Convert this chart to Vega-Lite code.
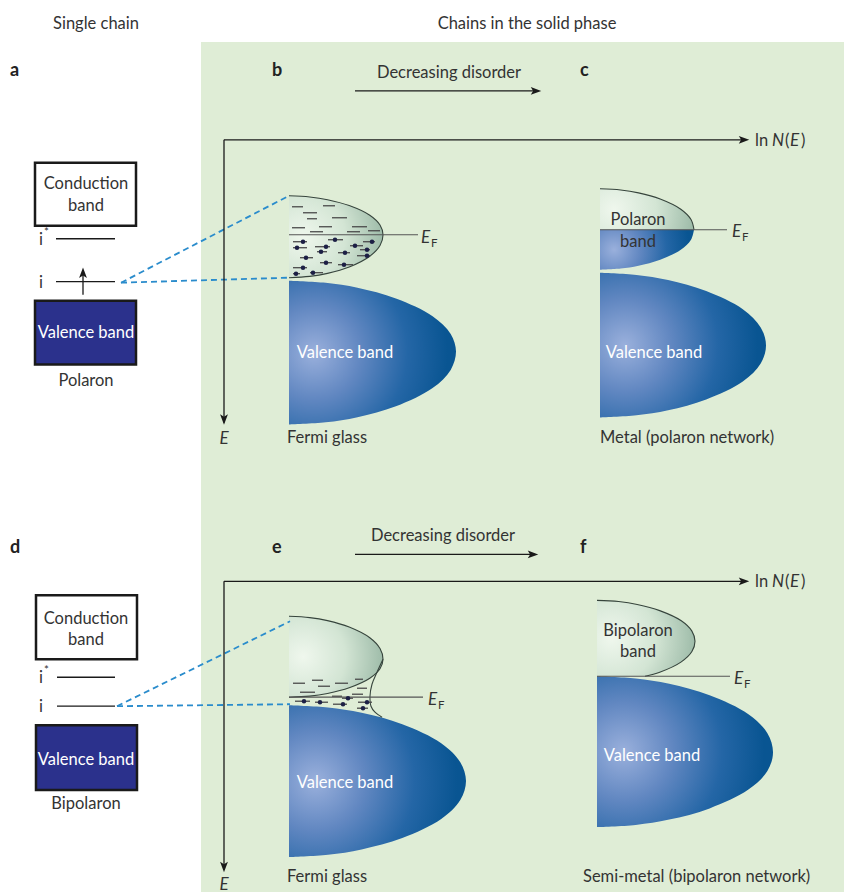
{
  "$schema": "https://vega.github.io/schema/vega-lite/v6.json",
  "width": 844,
  "height": 893,
  "autosize": {"type": "fit", "contains": "padding"},
  "padding": 0,
  "background": "white",
  "config": {"view": {"stroke": null}, "text": {"font": "Lato"}},
  "datasets": {
    "bg": [{"x": 201, "x2": 844, "y": 42, "y2": 893}],
    "boxes": [
      {"k": "cond", "x": 35, "x2": 136, "y": 163, "y2": 226},
      {"k": "val", "x": 35, "x2": 136, "y": 301, "y2": 365},
      {"k": "cond", "x": 36, "x2": 137, "y": 596, "y2": 660},
      {"k": "val", "x": 36, "x2": 137, "y": 726, "y2": 791}
    ],
    "shapes": [
      {"s": "b_up", "x0": 289, "y": 196, "x": 289}, {"s": "b_up", "x0": 289, "y": 197.2, "x": 309.7}, {"s": "b_up", "x0": 289, "y": 199.9, "x": 327.5}, {"s": "b_up", "x0": 289, "y": 205.8, "x": 349.2}, {"s": "b_up", "x0": 289, "y": 215.5, "x": 369.8}, {"s": "b_up", "x0": 289, "y": 225.3, "x": 380}, {"s": "b_up", "x0": 289, "y": 235, "x": 383}, {"s": "b_up", "x0": 289, "y": 245.8, "x": 380}, {"s": "b_up", "x0": 289, "y": 256.5, "x": 369.8}, {"s": "b_up", "x0": 289, "y": 267.3, "x": 349.2}, {"s": "b_up", "x0": 289, "y": 273.7, "x": 327.5}, {"s": "b_up", "x0": 289, "y": 276.7, "x": 309.7}, {"s": "b_up", "x0": 289, "y": 278, "x": 289},
      {"s": "b_val", "x0": 289, "y": 281, "x": 289}, {"s": "b_val", "x0": 289, "y": 283.1, "x": 325.7}, {"s": "b_val", "x0": 289, "y": 288.1, "x": 357.5}, {"s": "b_val", "x0": 289, "y": 298.8, "x": 395.9}, {"s": "b_val", "x0": 289, "y": 316.5, "x": 432.6}, {"s": "b_val", "x0": 289, "y": 334.3, "x": 450.7}, {"s": "b_val", "x0": 289, "y": 352, "x": 456}, {"s": "b_val", "x0": 289, "y": 370.3, "x": 450.7}, {"s": "b_val", "x0": 289, "y": 388.5, "x": 432.6}, {"s": "b_val", "x0": 289, "y": 406.8, "x": 395.9}, {"s": "b_val", "x0": 289, "y": 417.7, "x": 357.5}, {"s": "b_val", "x0": 289, "y": 422.8, "x": 325.7}, {"s": "b_val", "x0": 289, "y": 425, "x": 289},
      {"s": "c_pt", "x0": 600, "y": 189, "x": 600}, {"s": "c_pt", "x0": 600, "y": 190.2, "x": 620.7}, {"s": "c_pt", "x0": 600, "y": 193.1, "x": 638.5}, {"s": "c_pt", "x0": 600, "y": 199.3, "x": 660.2}, {"s": "c_pt", "x0": 600, "y": 209.5, "x": 680.8}, {"s": "c_pt", "x0": 600, "y": 219.8, "x": 691}, {"s": "c_pt", "x0": 600, "y": 230, "x": 694},
      {"s": "c_pb", "x0": 600, "y": 230, "x": 694}, {"s": "c_pb", "x0": 600, "y": 240, "x": 691}, {"s": "c_pb", "x0": 600, "y": 250, "x": 680.8}, {"s": "c_pb", "x0": 600, "y": 260, "x": 660.2}, {"s": "c_pb", "x0": 600, "y": 266, "x": 638.5}, {"s": "c_pb", "x0": 600, "y": 268.8, "x": 620.7}, {"s": "c_pb", "x0": 600, "y": 270, "x": 600},
      {"s": "c_val", "x0": 600, "y": 273, "x": 600}, {"s": "c_val", "x0": 600, "y": 275.2, "x": 636.5}, {"s": "c_val", "x0": 600, "y": 280.3, "x": 668.1}, {"s": "c_val", "x0": 600, "y": 291.3, "x": 706.2}, {"s": "c_val", "x0": 600, "y": 309.5, "x": 742.8}, {"s": "c_val", "x0": 600, "y": 327.8, "x": 760.7}, {"s": "c_val", "x0": 600, "y": 346, "x": 766}, {"s": "c_val", "x0": 600, "y": 364, "x": 760.7}, {"s": "c_val", "x0": 600, "y": 382, "x": 742.8}, {"s": "c_val", "x0": 600, "y": 400, "x": 706.2}, {"s": "c_val", "x0": 600, "y": 410.8, "x": 668.1}, {"s": "c_val", "x0": 600, "y": 415.8, "x": 636.5}, {"s": "c_val", "x0": 600, "y": 418, "x": 600},
      {"s": "e_up", "x0": 289, "y": 617, "x": 289}, {"s": "e_up", "x0": 289, "y": 618.3, "x": 309.7}, {"s": "e_up", "x0": 289, "y": 621.3, "x": 327.5}, {"s": "e_up", "x0": 289, "y": 627.8, "x": 349.2}, {"s": "e_up", "x0": 289, "y": 638.5, "x": 369.8}, {"s": "e_up", "x0": 289, "y": 649.3, "x": 380}, {"s": "e_up", "x0": 289, "y": 660, "x": 383}, {"s": "e_up", "x0": 289, "y": 669.5, "x": 380}, {"s": "e_up", "x0": 289, "y": 679, "x": 369.8}, {"s": "e_up", "x0": 289, "y": 688.5, "x": 349.2}, {"s": "e_up", "x0": 289, "y": 694.2, "x": 327.5}, {"s": "e_up", "x0": 289, "y": 696.9, "x": 309.7}, {"s": "e_up", "x0": 289, "y": 698, "x": 289},
      {"s": "e_val", "x0": 289, "y": 706, "x": 289}, {"s": "e_val", "x0": 289, "y": 708.3, "x": 328}, {"s": "e_val", "x0": 289, "y": 713.6, "x": 361.6}, {"s": "e_val", "x0": 289, "y": 725, "x": 402.3}, {"s": "e_val", "x0": 289, "y": 744, "x": 441.2}, {"s": "e_val", "x0": 289, "y": 763, "x": 460.3}, {"s": "e_val", "x0": 289, "y": 782, "x": 466}, {"s": "e_val", "x0": 289, "y": 801, "x": 460.3}, {"s": "e_val", "x0": 289, "y": 820, "x": 441.2}, {"s": "e_val", "x0": 289, "y": 839, "x": 402.3}, {"s": "e_val", "x0": 289, "y": 850.4, "x": 361.6}, {"s": "e_val", "x0": 289, "y": 855.7, "x": 328}, {"s": "e_val", "x0": 289, "y": 858, "x": 289},
      {"s": "f_bip", "x0": 597, "y": 601, "x": 597}, {"s": "f_bip", "x0": 597, "y": 602.2, "x": 618.6}, {"s": "f_bip", "x0": 597, "y": 605.1, "x": 637.2}, {"s": "f_bip", "x0": 597, "y": 611.3, "x": 659.7}, {"s": "f_bip", "x0": 597, "y": 621.5, "x": 681.3}, {"s": "f_bip", "x0": 597, "y": 631.8, "x": 691.9}, {"s": "f_bip", "x0": 597, "y": 642, "x": 695}, {"s": "f_bip", "x0": 597, "y": 652.3, "x": 691.9}, {"s": "f_bip", "x0": 597, "y": 662.6, "x": 681.3}, {"s": "f_bip", "x0": 597, "y": 673, "x": 659.7}, {"s": "f_bip", "x0": 597, "y": 677, "x": 645},
      {"s": "f_val", "x0": 597, "y": 677, "x": 597}, {"s": "f_val", "x0": 597, "y": 679.3, "x": 635.7}, {"s": "f_val", "x0": 597, "y": 684.6, "x": 669.2}, {"s": "f_val", "x0": 597, "y": 696, "x": 709.6}, {"s": "f_val", "x0": 597, "y": 715, "x": 748.4}, {"s": "f_val", "x0": 597, "y": 734, "x": 767.4}, {"s": "f_val", "x0": 597, "y": 753, "x": 773}, {"s": "f_val", "x0": 597, "y": 771.8, "x": 767.4}, {"s": "f_val", "x0": 597, "y": 790.5, "x": 748.4}, {"s": "f_val", "x0": 597, "y": 809.3, "x": 709.6}, {"s": "f_val", "x0": 597, "y": 820.5, "x": 669.2}, {"s": "f_val", "x0": 597, "y": 825.8, "x": 635.7}, {"s": "f_val", "x0": 597, "y": 828, "x": 597}
    ],
    "tail": [
      {"x": 383, "y": 660}, {"x": 377, "y": 673}, {"x": 372, "y": 685}, {"x": 370, "y": 697}, {"x": 371, "y": 707}, {"x": 375, "y": 713}, {"x": 382, "y": 718}
    ],
    "segs": [
      {"k": "ax", "x": 224, "y": 140, "x2": 224, "y2": 423},
      {"k": "ax", "x": 224, "y": 140, "x2": 746, "y2": 140},
      {"k": "ax", "x": 224, "y": 582, "x2": 224, "y2": 871},
      {"k": "ax", "x": 224, "y": 582, "x2": 746, "y2": 582},
      {"k": "ax", "x": 355, "y": 91, "x2": 538, "y2": 91},
      {"k": "ax", "x": 355, "y": 555, "x2": 535, "y2": 555},
      {"k": "ax", "x": 83, "y": 295, "x2": 83, "y2": 271},
      {"k": "ax", "x": 56, "y": 239, "x2": 115, "y2": 239},
      {"k": "ax", "x": 56, "y": 282, "x2": 115, "y2": 282},
      {"k": "ax", "x": 57, "y": 678, "x2": 115, "y2": 678},
      {"k": "ax", "x": 57, "y": 707, "x2": 115, "y2": 707},
      {"k": "ef", "x": 289, "y": 235, "x2": 418, "y2": 235},
      {"k": "ef", "x": 600, "y": 230, "x2": 727, "y2": 230},
      {"k": "ef", "x": 289, "y": 698, "x2": 423, "y2": 698},
      {"k": "ef", "x": 597, "y": 677, "x2": 730, "y2": 677},
      {"k": "blue", "x": 121, "y": 283, "x2": 289, "y2": 196},
      {"k": "blue", "x": 121, "y": 283, "x2": 289, "y2": 278},
      {"k": "blue", "x": 117, "y": 707, "x2": 290, "y2": 622},
      {"k": "blue", "x": 117, "y": 707, "x2": 290, "y2": 705},
      {"k": "lev", "x": 292, "x2": 303, "y": 207, "y2": 207},
      {"k": "lev", "x": 323, "x2": 335, "y": 206, "y2": 206},
      {"k": "lev", "x": 303, "x2": 317, "y": 213, "y2": 213},
      {"k": "lev", "x": 307, "x2": 317, "y": 219, "y2": 219},
      {"k": "lev", "x": 332, "x2": 347, "y": 218, "y2": 218},
      {"k": "lev", "x": 292, "x2": 305, "y": 228, "y2": 228},
      {"k": "lev", "x": 319, "x2": 332, "y": 227, "y2": 227},
      {"k": "lev", "x": 352, "x2": 367, "y": 227, "y2": 227},
      {"k": "lev", "x": 310, "x2": 323, "y": 232, "y2": 232},
      {"k": "lev", "x": 347, "x2": 360, "y": 232, "y2": 232},
      {"k": "lev", "x": 368, "x2": 380, "y": 231, "y2": 231},
      {"k": "lev", "x": 293, "x2": 307, "y": 242, "y2": 242},
      {"k": "lev", "x": 328, "x2": 343, "y": 240, "y2": 240},
      {"k": "lev", "x": 363, "x2": 375, "y": 242, "y2": 242},
      {"k": "lev", "x": 293, "x2": 307, "y": 248, "y2": 248},
      {"k": "lev", "x": 315, "x2": 330, "y": 247, "y2": 247},
      {"k": "lev", "x": 317, "x2": 327, "y": 252, "y2": 252},
      {"k": "lev", "x": 350, "x2": 363, "y": 246, "y2": 246},
      {"k": "lev", "x": 360, "x2": 370, "y": 250, "y2": 250},
      {"k": "lev", "x": 338, "x2": 350, "y": 253, "y2": 253},
      {"k": "lev", "x": 300, "x2": 313, "y": 258, "y2": 258},
      {"k": "lev", "x": 357, "x2": 370, "y": 256, "y2": 256},
      {"k": "lev", "x": 320, "x2": 332, "y": 263, "y2": 263},
      {"k": "lev", "x": 338, "x2": 353, "y": 265, "y2": 265},
      {"k": "lev", "x": 293, "x2": 307, "y": 268, "y2": 268},
      {"k": "lev", "x": 310, "x2": 323, "y": 273, "y2": 273},
      {"k": "lev", "x": 293, "x2": 300, "y": 274, "y2": 274},
      {"k": "lev", "x": 293, "x2": 305, "y": 684, "y2": 684},
      {"k": "lev", "x": 312, "x2": 323, "y": 681, "y2": 681},
      {"k": "lev", "x": 318, "x2": 330, "y": 687, "y2": 687},
      {"k": "lev", "x": 335, "x2": 348, "y": 684, "y2": 684},
      {"k": "lev", "x": 355, "x2": 363, "y": 680, "y2": 680},
      {"k": "lev", "x": 300, "x2": 315, "y": 693, "y2": 693},
      {"k": "lev", "x": 352, "x2": 363, "y": 695, "y2": 695},
      {"k": "lev", "x": 357, "x2": 367, "y": 689, "y2": 689},
      {"k": "lev", "x": 332, "x2": 342, "y": 697, "y2": 697},
      {"k": "lev", "x": 295, "x2": 310, "y": 702, "y2": 702},
      {"k": "lev", "x": 315, "x2": 328, "y": 703, "y2": 703},
      {"k": "lev", "x": 333, "x2": 347, "y": 705, "y2": 705},
      {"k": "lev", "x": 342, "x2": 353, "y": 699, "y2": 699},
      {"k": "lev", "x": 358, "x2": 372, "y": 703, "y2": 703},
      {"k": "lev", "x": 357, "x2": 368, "y": 709, "y2": 709}
    ],
    "dots": [
      {"x": 303, "y": 242}, {"x": 335, "y": 240}, {"x": 372, "y": 242}, {"x": 297, "y": 248}, {"x": 326, "y": 247}, {"x": 321, "y": 252}, {"x": 355, "y": 246}, {"x": 367, "y": 250}, {"x": 345, "y": 253}, {"x": 306, "y": 258}, {"x": 367, "y": 256}, {"x": 326, "y": 263}, {"x": 344, "y": 265}, {"x": 303, "y": 268}, {"x": 313, "y": 273}, {"x": 296, "y": 274},
      {"x": 304, "y": 702}, {"x": 320, "y": 703}, {"x": 343, "y": 705}, {"x": 348, "y": 699}, {"x": 367, "y": 703}, {"x": 363, "y": 709}
    ],
    "arrows": [
      {"d": "down", "x": 224, "y": 420}, {"d": "down", "x": 224, "y": 868},
      {"d": "right", "x": 744, "y": 140}, {"d": "right", "x": 744, "y": 582},
      {"d": "right", "x": 536, "y": 91}, {"d": "right", "x": 533, "y": 555},
      {"d": "up", "x": 83, "y": 273}
    ],
    "texts": [
      {"g": "c", "x": 96, "y": 24, "t": "Single chain"},
      {"g": "c", "x": 527, "y": 24, "t": "Chains in the solid phase"},
      {"g": "c", "x": 449, "y": 73, "t": "Decreasing disorder"},
      {"g": "c", "x": 443, "y": 537, "t": "Decreasing disorder"},
      {"g": "c", "x": 86, "y": 184, "t": "Conduction"},
      {"g": "c", "x": 86, "y": 206, "t": "band"},
      {"g": "c", "x": 86, "y": 620, "t": "Conduction"},
      {"g": "c", "x": 86, "y": 641, "t": "band"},
      {"g": "c", "x": 86, "y": 381, "t": "Polaron"},
      {"g": "c", "x": 86, "y": 805, "t": "Bipolaron"},
      {"g": "c", "x": 638, "y": 220, "t": "Polaron"},
      {"g": "c", "x": 638, "y": 242, "t": "band"},
      {"g": "c", "x": 638, "y": 632, "t": "Bipolaron"},
      {"g": "c", "x": 638, "y": 653, "t": "band"},
      {"g": "c", "x": 41, "y": 240, "t": "i"},
      {"g": "c", "x": 41, "y": 283, "t": "i"},
      {"g": "c", "x": 41, "y": 679, "t": "i"},
      {"g": "c", "x": 41, "y": 708, "t": "i"},
      {"g": "l", "x": 287, "y": 438, "t": "Fermi glass"},
      {"g": "l", "x": 287, "y": 878, "t": "Fermi glass"},
      {"g": "l", "x": 600, "y": 438, "t": "Metal (polaron network)"},
      {"g": "l", "x": 583, "y": 878, "t": "Semi-metal (bipolaron network)"},
      {"g": "l", "x": 755, "y": 141, "t": "ln"},
      {"g": "l", "x": 785, "y": 141, "t": "("},
      {"g": "l", "x": 801, "y": 141, "t": ")"},
      {"g": "l", "x": 755, "y": 583, "t": "ln"},
      {"g": "l", "x": 785, "y": 583, "t": "("},
      {"g": "l", "x": 801, "y": 583, "t": ")"},
      {"g": "w", "x": 86, "y": 333, "t": "Valence band"},
      {"g": "w", "x": 86, "y": 761, "t": "Valence band"},
      {"g": "w", "x": 345, "y": 353, "t": "Valence band"},
      {"g": "w", "x": 654, "y": 353, "t": "Valence band"},
      {"g": "w", "x": 345, "y": 784, "t": "Valence band"},
      {"g": "w", "x": 652, "y": 757, "t": "Valence band"},
      {"g": "b", "x": 10, "y": 71, "t": "a"},
      {"g": "b", "x": 272, "y": 71, "t": "b"},
      {"g": "b", "x": 580, "y": 71, "t": "c"},
      {"g": "b", "x": 10, "y": 549, "t": "d"},
      {"g": "b", "x": 272, "y": 549, "t": "e"},
      {"g": "b", "x": 580, "y": 549, "t": "f"},
      {"g": "ic", "x": 224, "y": 439, "t": "E"},
      {"g": "ic", "x": 224, "y": 886, "t": "E"},
      {"g": "il", "x": 772, "y": 141, "t": "N"},
      {"g": "il", "x": 790, "y": 141, "t": "E"},
      {"g": "il", "x": 772, "y": 583, "t": "N"},
      {"g": "il", "x": 790, "y": 583, "t": "E"},
      {"g": "il", "x": 421, "y": 238, "t": "E"},
      {"g": "il", "x": 732, "y": 232, "t": "E"},
      {"g": "il", "x": 428, "y": 701, "t": "E"},
      {"g": "il", "x": 734, "y": 680, "t": "E"},
      {"g": "s", "x": 431, "y": 244, "t": "F"},
      {"g": "s", "x": 742, "y": 238, "t": "F"},
      {"g": "s", "x": 438, "y": 707, "t": "F"},
      {"g": "s", "x": 744, "y": 686, "t": "F"},
      {"g": "s", "x": 44, "y": 233, "t": "*"},
      {"g": "s", "x": 44, "y": 672, "t": "*"}
    ]
  },
  "encoding": {
    "x": {"field": "x", "type": "quantitative", "scale": {"domain": [0, 844], "nice": false, "zero": false}, "axis": null},
    "y": {"field": "y", "type": "quantitative", "scale": {"domain": [0, 893], "nice": false, "zero": false, "reverse": true}, "axis": null}
  },
  "layer": [
    {
      "data": {"name": "bg"},
      "mark": {"type": "rect", "fill": "#dfedd6"},
      "encoding": {"x2": {"field": "x2"}, "y2": {"field": "y2"}}
    },
    {
      "data": {"name": "boxes"},
      "transform": [{"filter": "datum.k == 'cond'"}],
      "mark": {"type": "rect", "fill": "white", "stroke": "#1a1a1a", "strokeWidth": 2.5},
      "encoding": {"x2": {"field": "x2"}, "y2": {"field": "y2"}}
    },
    {
      "data": {"name": "boxes"},
      "transform": [{"filter": "datum.k == 'val'"}],
      "mark": {"type": "rect", "fill": "#2b318c", "stroke": "#1a1a1a", "strokeWidth": 2.5},
      "encoding": {"x2": {"field": "x2"}, "y2": {"field": "y2"}}
    },
    {
      "data": {"name": "shapes"},
      "transform": [{"filter": {"field": "s", "oneOf": ["b_up", "c_pt", "e_up", "f_bip"]}}],
      "mark": {"type": "area", "orient": "horizontal", "interpolate": "catmull-rom",
        "color": {"gradient": "radial", "x1": 0.15, "y1": 0.5, "r1": 0, "x2": 0.15, "y2": 0.5, "r2": 0.9,
          "stops": [{"offset": 0, "color": "#eff7ed"}, {"offset": 0.5, "color": "#d3e5d4"}, {"offset": 1, "color": "#98b7a4"}]}},
      "encoding": {
        "x": {"field": "x", "type": "quantitative"},
        "x2": {"field": "x0"},
        "detail": {"field": "s"}
      }
    },
    {
      "data": {"name": "shapes"},
      "transform": [{"filter": {"field": "s", "oneOf": ["b_val", "c_pb", "c_val", "e_val", "f_val"]}}],
      "mark": {"type": "area", "orient": "horizontal", "interpolate": "catmull-rom",
        "color": {"gradient": "radial", "x1": 0.15, "y1": 0.5, "r1": 0, "x2": 0.15, "y2": 0.5, "r2": 0.8,
          "stops": [{"offset": 0, "color": "#9ab0dc"}, {"offset": 0.35, "color": "#6187c1"}, {"offset": 0.7, "color": "#2466a6"}, {"offset": 1, "color": "#095592"}]}},
      "encoding": {
        "x": {"field": "x", "type": "quantitative"},
        "x2": {"field": "x0"},
        "detail": {"field": "s"}
      }
    },
    {
      "data": {"name": "shapes"},
      "transform": [{"filter": {"field": "s", "oneOf": ["b_up", "c_pt", "e_up", "f_bip"]}}],
      "mark": {"type": "line", "interpolate": "catmull-rom", "stroke": "#36443c", "strokeWidth": 1.1},
      "encoding": {"detail": {"field": "s"}, "order": {"field": "y"}}
    },
    {
      "data": {"name": "tail"},
      "mark": {"type": "line", "interpolate": "catmull-rom", "stroke": "#36443c", "strokeWidth": 1.1},
      "encoding": {"order": {"field": "y"}}
    },
    {
      "data": {"name": "segs"},
      "transform": [{"filter": "datum.k == 'lev'"}],
      "mark": {"type": "rule", "stroke": "#4a4a4a", "strokeWidth": 1.3},
      "encoding": {"x2": {"field": "x2"}, "y2": {"field": "y2"}}
    },
    {
      "data": {"name": "segs"},
      "transform": [{"filter": "datum.k == 'ef'"}],
      "mark": {"type": "rule", "stroke": "#555555", "strokeWidth": 1.2},
      "encoding": {"x2": {"field": "x2"}, "y2": {"field": "y2"}}
    },
    {
      "data": {"name": "segs"},
      "transform": [{"filter": "datum.k == 'blue'"}],
      "mark": {"type": "rule", "stroke": "#2a8ccc", "strokeWidth": 1.8, "strokeDash": [6, 4]},
      "encoding": {"x2": {"field": "x2"}, "y2": {"field": "y2"}}
    },
    {
      "data": {"name": "segs"},
      "transform": [{"filter": "datum.k == 'ax'"}],
      "mark": {"type": "rule", "stroke": "#1a1a1a", "strokeWidth": 1.3},
      "encoding": {"x2": {"field": "x2"}, "y2": {"field": "y2"}}
    },
    {
      "data": {"name": "dots"},
      "mark": {"type": "point", "shape": "circle", "filled": true, "size": 20, "color": "#1c1f45", "opacity": 1},
      "encoding": {}
    },
    {
      "data": {"name": "arrows"},
      "transform": [{"filter": "datum.d == 'down'"}],
      "mark": {"type": "point", "shape": "M0,-1L0.75,1L0,0.55L-0.75,1Z", "filled": true, "size": 110, "color": "#1a1a1a", "opacity": 1, "angle": 180},
      "encoding": {}
    },
    {
      "data": {"name": "arrows"},
      "transform": [{"filter": "datum.d == 'right'"}],
      "mark": {"type": "point", "shape": "M0,-1L0.75,1L0,0.55L-0.75,1Z", "filled": true, "size": 110, "color": "#1a1a1a", "opacity": 1, "angle": 90},
      "encoding": {}
    },
    {
      "data": {"name": "arrows"},
      "transform": [{"filter": "datum.d == 'up'"}],
      "mark": {"type": "point", "shape": "M0,-1L0.75,1L0,0.55L-0.75,1Z", "filled": true, "size": 110, "color": "#1a1a1a", "opacity": 1, "angle": 0},
      "encoding": {}
    },
    {
      "data": {"name": "texts"},
      "transform": [{"filter": "datum.g == 'c'"}],
      "mark": {"type": "text", "align": "center", "baseline": "middle", "fontSize": 16.5, "color": "#333333"},
      "encoding": {"text": {"field": "t"}}
    },
    {
      "data": {"name": "texts"},
      "transform": [{"filter": "datum.g == 'l'"}],
      "mark": {"type": "text", "align": "left", "baseline": "middle", "fontSize": 16.5, "color": "#333333"},
      "encoding": {"text": {"field": "t"}}
    },
    {
      "data": {"name": "texts"},
      "transform": [{"filter": "datum.g == 'w'"}],
      "mark": {"type": "text", "align": "center", "baseline": "middle", "fontSize": 16.5, "color": "#ffffff"},
      "encoding": {"text": {"field": "t"}}
    },
    {
      "data": {"name": "texts"},
      "transform": [{"filter": "datum.g == 'b'"}],
      "mark": {"type": "text", "align": "left", "baseline": "middle", "fontSize": 18, "fontWeight": "bold", "color": "#222222"},
      "encoding": {"text": {"field": "t"}}
    },
    {
      "data": {"name": "texts"},
      "transform": [{"filter": "datum.g == 'ic'"}],
      "mark": {"type": "text", "align": "center", "baseline": "middle", "fontSize": 17, "fontStyle": "italic", "color": "#333333"},
      "encoding": {"text": {"field": "t"}}
    },
    {
      "data": {"name": "texts"},
      "transform": [{"filter": "datum.g == 'il'"}],
      "mark": {"type": "text", "align": "left", "baseline": "middle", "fontSize": 17, "fontStyle": "italic", "color": "#333333"},
      "encoding": {"text": {"field": "t"}}
    },
    {
      "data": {"name": "texts"},
      "transform": [{"filter": "datum.g == 's'"}],
      "mark": {"type": "text", "align": "left", "baseline": "middle", "fontSize": 11.5, "color": "#333333"},
      "encoding": {"text": {"field": "t"}}
    }
  ]
}
